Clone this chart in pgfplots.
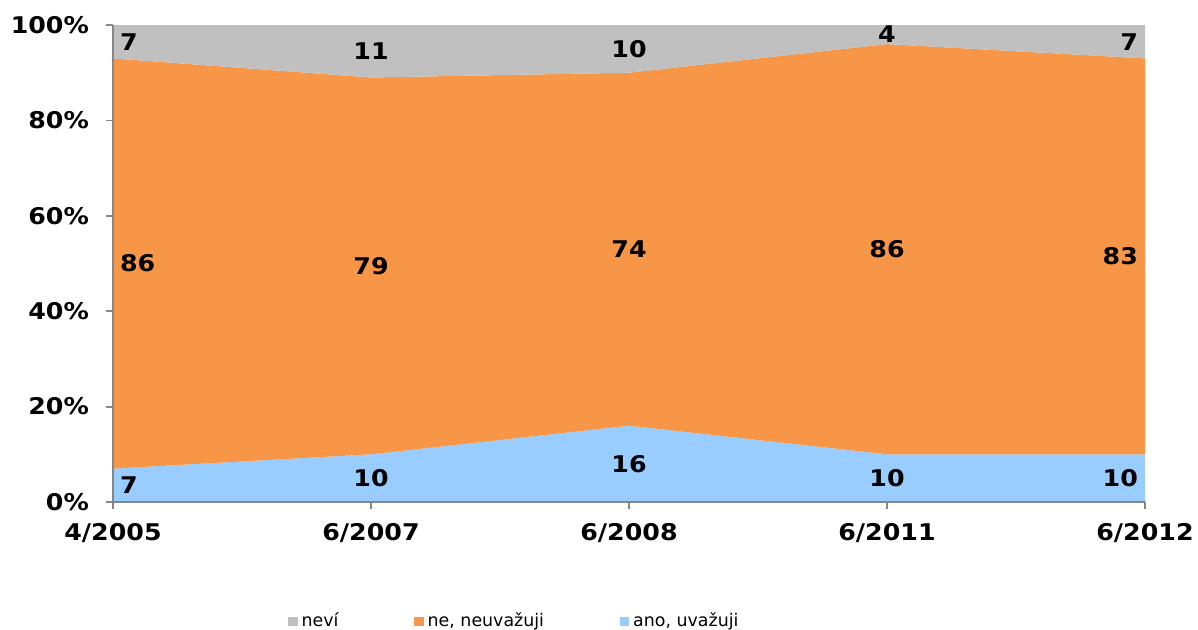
\documentclass[border=0pt]{standalone}
\usepackage{pgfplots}
\usepackage{pgfplotstable}
\pgfplotsset{compat=1.18}
\usepackage{fontspec}
\setmainfont{DejaVu Sans}
\newfontfamily\verd{DejaVu Sans}[FakeStretch=1.1]
\definecolor{cgray}{HTML}{C0C0C0}
\definecolor{corange}{HTML}{F79646}
\definecolor{cblue}{HTML}{99CCFF}
\definecolor{caxis}{HTML}{868686}

\pgfplotstableread{
x ano ne nevi
0 7 86 7
1 10 79 11
2 16 74 10
3 10 86 4
4 10 83 7
}\datatable

\pgfplotstableread{
x y lab
0 3.5 7
0 50 86
0 96.5 7
}\labL
\pgfplotstableread{
x y lab
1 5 10
1 49.5 79
1 94.5 11
2 8 16
2 53 74
2 95 10
3 5 10
3 53 86
3 98 4
}\labM
\pgfplotstableread{
x y lab
4 5 10
4 51.5 83
4 96.5 7
}\labR

\begin{document}
\begin{tikzpicture}
\clip (-56.5pt,-63.5pt) rectangle (542.5pt,251pt);
\path[use as bounding box] (-56.5pt,-63.5pt) rectangle (542.5pt,251pt);
\begin{axis}[
  scale only axis, width=516pt, height=238.5pt,
  at={(0,0)}, anchor=south west,
  xmin=0, xmax=4, ymin=0, ymax=100,
  xtick={0,1,2,3,4},
  xticklabels={4/2005,6/2007,6/2008,6/2011,6/2012},
  ytick={0,20,40,60,80,100},
  yticklabels={0\%,20\%,40\%,60\%,80\%,100\%},
  axis x line*=bottom, axis y line*=left,
  axis line style={caxis, line width=0.9pt, -},
  tick style={caxis, line width=0.9pt},
  tick align=outside, major tick length=3.5pt,
  ticklabel style={font=\verd\bfseries\fontsize{11.5}{13}\selectfont, text=black},
  yticklabel style={xshift=-5pt},
  xticklabel style={yshift=-3.5pt},
  /pgf/number format/assume math mode=true,
  axis on top,
  legend columns=3,
  legend style={at={(0.1696,-0.25)}, anchor=west, draw=none, fill=none,
    inner sep=0pt, font=\fontsize{8.7}{10}\selectfont,
    /tikz/every even column/.append style={column sep=36pt}},
  legend cell align=left,
  legend image code/.code={\fill[#1] (0pt,-2.3pt) rectangle (4.6pt,2.3pt);},
]
\addlegendimage{fill=cgray, draw=none}
\addlegendentry{neví}
\addlegendimage{fill=corange, draw=none}
\addlegendentry{ne, neuvažuji}
\addlegendimage{fill=cblue, draw=none}
\addlegendentry{ano, uvažuji}

\addplot[stack plots=y, fill=cblue, draw=none, forget plot] table[x=x, y=ano]{\datatable} \closedcycle;
\addplot[stack plots=y, fill=corange, draw=none, forget plot] table[x=x, y=ne]{\datatable} \closedcycle;
\addplot[stack plots=y, fill=cgray, draw=none, forget plot] table[x=x, y=nevi]{\datatable} \closedcycle;

\addplot[stack plots=false, draw=none, mark=none, forget plot, nodes near coords, point meta=explicit symbolic,
  every node near coord/.append style={anchor=west, text=black, font=\verd\bfseries\fontsize{11.5}{13}\selectfont}]
  table[x=x, y=y, meta=lab]{\labL};
\addplot[stack plots=false, draw=none, mark=none, forget plot, nodes near coords, point meta=explicit symbolic,
  every node near coord/.append style={anchor=center, text=black, font=\verd\bfseries\fontsize{11.5}{13}\selectfont}]
  table[x=x, y=y, meta=lab]{\labM};
\addplot[stack plots=false, draw=none, mark=none, forget plot, nodes near coords, point meta=explicit symbolic,
  every node near coord/.append style={anchor=east, text=black, font=\verd\bfseries\fontsize{11.5}{13}\selectfont}]
  table[x=x, y=y, meta=lab]{\labR};
\end{axis}
\end{tikzpicture}
\end{document}
